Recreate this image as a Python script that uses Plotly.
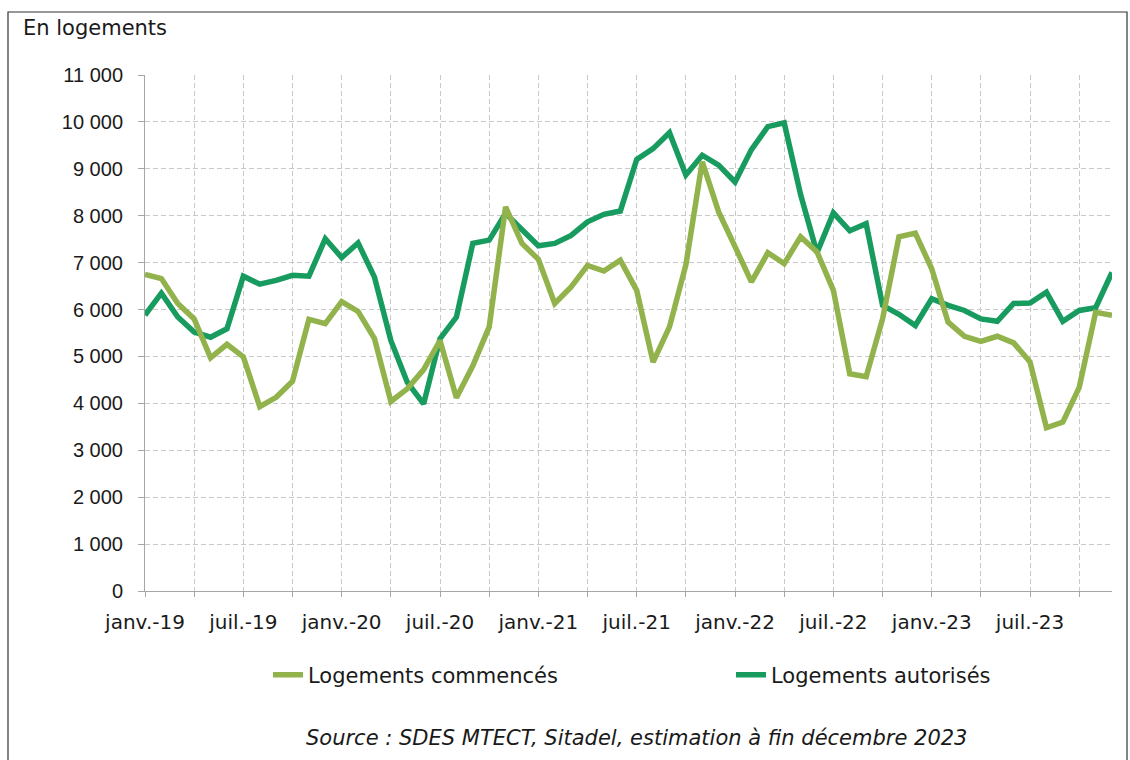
import plotly.graph_objects as go

months = [f"{m} {y}" for y in range(2019, 2024) for m in
          ["janv.", "févr.", "mars", "avr.", "mai", "juin", "juil.", "août", "sept.", "oct.", "nov.", "déc."]]

tick_labels = ["janv.-19", "juil.-19", "janv.-20", "juil.-20", "janv.-21", "juil.-21",
               "janv.-22", "juil.-22", "janv.-23", "juil.-23"]

commences = [6750, 6660, 6130, 5800, 4970, 5260, 4990, 3930, 4130, 4470, 5790, 5700,
             6170, 5960, 5380, 4040, 4310, 4720, 5340, 4120, 4800, 5630, 8190, 7410,
             7070, 6130, 6480, 6940, 6820, 7050, 6410, 4880, 5630, 6950, 9150, 8080,
             7340, 6590, 7210, 6980, 7550, 7230, 6410, 4630, 4570, 5800, 7550, 7630,
             6870, 5730, 5430, 5320, 5430, 5290, 4880, 3480, 3600, 4340, 5940, 5880]

autorises = [5880, 6350, 5840, 5520, 5410, 5590, 6710, 6540, 6620, 6730, 6710, 7510,
             7110, 7420, 6690, 5340, 4450, 3990, 5380, 5840, 7410, 7480, 8050, 7690,
             7360, 7410, 7580, 7870, 8030, 8100, 9200, 9430, 9770, 8870, 9290, 9080,
             8720, 9410, 9900, 9980, 8450, 7210, 8060, 7680, 7830, 6090, 5900, 5660,
             6230, 6090, 5980, 5800, 5750, 6130, 6140, 6370, 5750, 5980, 6040, 6790]

series_names = ["Logements commencés", "Logements autorisés"]
series_colors = ["#92B24C", "#179B5F"]

x = list(range(len(months)))
grid_color = "#C9C9C9"
axis_color = "#A6A6A6"
txt_font = "DejaVu Sans"

fig = go.Figure()
fig.add_trace(go.Scatter(x=x, y=autorises, mode="lines", name=series_names[1],
                         customdata=months, hovertemplate="%{customdata}: %{y}<extra></extra>",
                         line=dict(color=series_colors[1], width=5.5), legend="legend2",
                         showlegend=True))
fig.add_trace(go.Scatter(x=x, y=commences, mode="lines", name=series_names[0],
                         customdata=months, hovertemplate="%{customdata}: %{y}<extra></extra>",
                         line=dict(color=series_colors[0], width=5.5), legend="legend",
                         showlegend=True))

legend_y = (591 - 675) / 516
fig.update_layout(
    width=1130, height=760,
    margin=dict(l=145, r=18, t=75, b=169),
    paper_bgcolor="white", plot_bgcolor="white",
    separators=", ",
    showlegend=True,
    font=dict(family=txt_font, color="#1a1a1a"),
    legend=dict(orientation="h", x=(268 - 145) / 967, xanchor="left", y=legend_y,
                yanchor="middle", font=dict(family=txt_font, size=21, color="#1a1a1a"),
                bgcolor="rgba(0,0,0,0)"),
    legend2=dict(orientation="h", x=(731 - 145) / 967, xanchor="left", y=legend_y,
                 yanchor="middle", font=dict(family=txt_font, size=21, color="#1a1a1a"),
                 bgcolor="rgba(0,0,0,0)"),
    xaxis=dict(
        range=[0, len(months) - 1],
        tickmode="array", tickvals=list(range(0, len(months), 6)), ticktext=tick_labels,
        tickfont=dict(family=txt_font, size=20, color="#1a1a1a"),
        ticks="outside", ticklen=5, tickcolor=axis_color, ticklabelstandoff=8,
        showline=True, linecolor=axis_color, linewidth=1,
        showgrid=True, gridcolor=grid_color, griddash="5px,3px", gridwidth=1,
        minor=dict(dtick=3, tick0=0, showgrid=True, gridcolor=grid_color, griddash="5px,3px",
                   ticks="outside", ticklen=5, tickcolor=axis_color),
        zeroline=False, fixedrange=True,
    ),
    yaxis=dict(
        range=[0, 11000], dtick=1000, tickformat=",d",
        tickfont=dict(family="Liberation Sans, Arial", size=20, color="#1a1a1a"),
        ticks="outside", ticklen=6, tickcolor=axis_color, ticklabelstandoff=11,
        showline=True, linecolor=axis_color, linewidth=1,
        showgrid=True, gridcolor=grid_color, griddash="5px,3px", gridwidth=1,
        zeroline=False, fixedrange=True,
    ),
    annotations=[
        dict(text="En logements", xref="paper", yref="paper",
             x=(21 - 145) / 967, y=(591 - 28) / 516, xanchor="left", yanchor="middle",
             showarrow=False, font=dict(family=txt_font, size=21, color="#1a1a1a")),
        dict(text="<i>Source : SDES MTECT, Sitadel, estimation à fin décembre 2023</i>",
             xref="paper", yref="paper", x=(636 - 145) / 967, y=(591 - 738) / 516,
             xanchor="center", yanchor="middle", showarrow=False,
             font=dict(family=txt_font, size=21, color="#1a1a1a")),
    ],
    shapes=[
        dict(type="rect", xref="paper", yref="paper",
             x0=(8 - 145) / 967, x1=(1127 - 145) / 967,
             y0=(591 - 790) / 516, y1=(591 - 12) / 516,
             line=dict(color="#333333", width=1.2), fillcolor="rgba(0,0,0,0)", layer="below"),
    ],
)

fig.write_html("out.html", config={"displayModeBar": False},
               post_script="document.body.style.margin='0';")
